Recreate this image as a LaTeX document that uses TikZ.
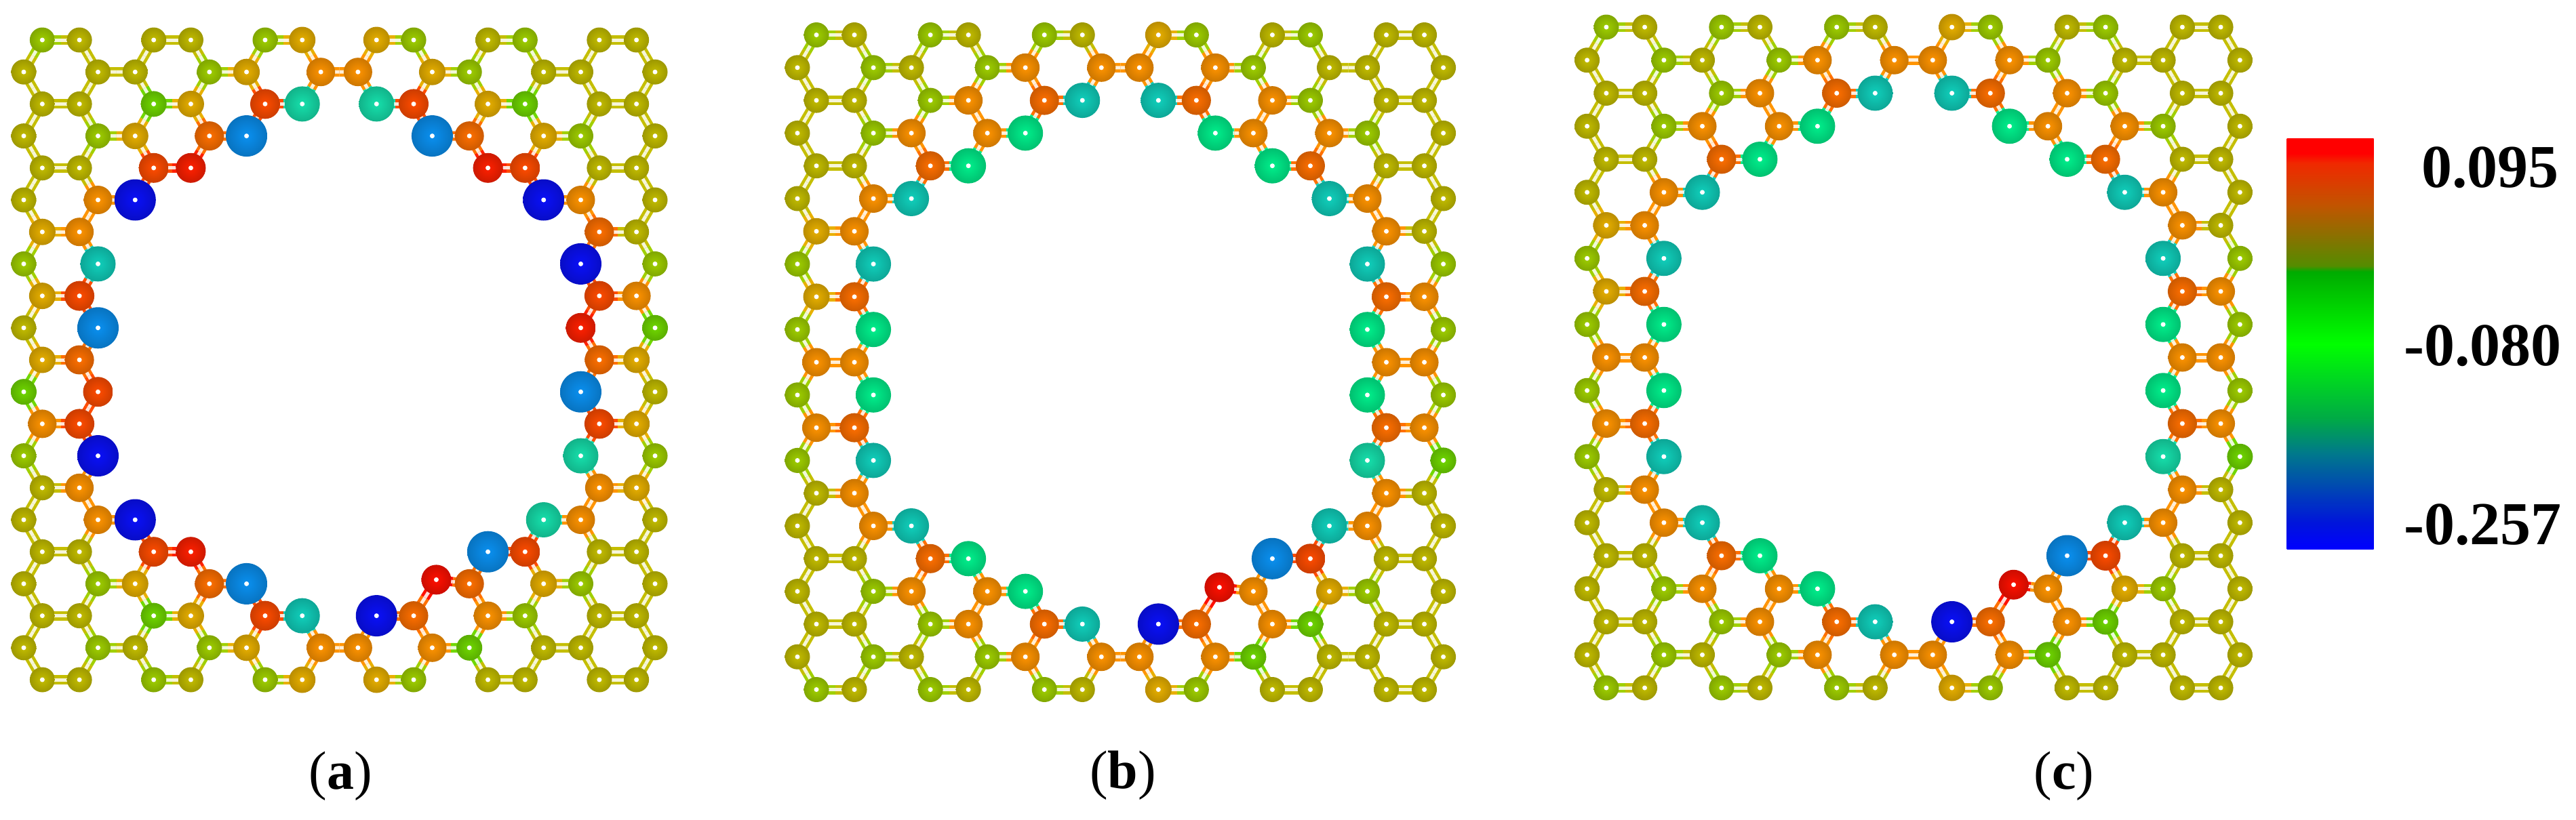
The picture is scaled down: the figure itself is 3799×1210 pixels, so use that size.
\documentclass[tikz,border=0pt]{standalone}
\usepackage{fontspec}
\setmainfont{Liberation Serif}
\usetikzlibrary{backgrounds,calc}

\tikzset{
  atom/.style={circle,inner sep=0pt,shading=radial,
    path picture={\fill[white] (path picture bounding box.center) circle (3.5pt);}},
  bondline/.style={line width=4.5pt,draw=#1,double=#1!15!white,double distance=5pt},
  caplabel/.style={font=\fontsize{80}{80}\selectfont,inner sep=0pt},
  valuelabel/.style={font=\fontsize{90}{90}\selectfont\bfseries,inner sep=0pt,anchor=east}
}
\newcommand{\atomkind}[3]{%
  \definecolor{c#1}{HTML}{#2}%
  \tikzset{atom#1/.style={atom,minimum size=#3pt,inner color=c#1,outer color=c#1!80!black}}}
\atomkind{y}{C4BE00}{37}
\atomkind{g}{A0D000}{37}
\atomkind{l}{70D800}{38}
\atomkind{a}{E8B000}{39}
\atomkind{o}{FF9400}{42}
\atomkind{d}{FF7000}{43}
\atomkind{r}{FF4C00}{44}
\atomkind{R}{FF2000}{44}
\atomkind{Q}{FF1000}{44}
\atomkind{t}{16E0AC}{52}
\atomkind{c}{10D0BC}{52}
\atomkind{s}{00F08C}{52}
\atomkind{b}{0A90F0}{61}
\atomkind{B}{0A10F8}{61}
\tikzset{atomQ/.append style={xshift=6pt,yshift=6pt}}

\pgfdeclareverticalshading{chargegrad}{100bp}{
  rgb(0bp)=(0,0,1); rgb(25bp)=(0,0,1); rgb(28.2bp)=(0,.08,.86);
  rgb(36.6bp)=(0,.47,.55); rgb(41bp)=(0,.67,.27); rgb(50bp)=(0,1,0);
  rgb(58.8bp)=(0,.67,0); rgb(59.5bp)=(.33,.55,0); rgb(66.9bp)=(.76,.33,0);
  rgb(72bp)=(.94,.16,0); rgb(73.2bp)=(1,0,0); rgb(100bp)=(1,0,0)}

\newcommand{\setpanel}[5]{\def\pname{#1}\def\xorg{#2}\def\yorg{#3}\def\xper{#4}\def\ystep{#5}}
\newcommand{\atomrow}[2]{%
  \foreach \col/\kind in {#2} {
    \pgfmathsetmacro\px{\xorg+\xper*(floor(\col/4)+{0,1/6,1/2,2/3}[int(mod(\col,4))])}
    \pgfmathsetmacro\py{\yorg+\ystep*#1}
    \node[atom\kind] (\pname-#1-\col) at (\px,\py) {};
    \expandafter\xdef\csname kind\pname-#1-\col\endcsname{\kind}
  }}
\newcommand{\bond}[4]{%
  \ifcsname kind\pname-#1-#2\endcsname\ifcsname kind\pname-#3-#4\endcsname
    \edef\ka{\csname kind\pname-#1-#2\endcsname}
    \edef\kb{\csname kind\pname-#3-#4\endcsname}
    \draw[bondline=c\ka] (\pname-#1-#2.center) -- ($(\pname-#1-#2)!.5!(\pname-#3-#4)$);
    \draw[bondline=c\kb] (\pname-#3-#4.center) -- ($(\pname-#1-#2)!.5!(\pname-#3-#4)$);
  \fi\fi}
\newcommand{\allbonds}{%
  \begin{scope}[on background layer]
  \foreach \rw in {0,2,...,20} {
    \pgfmathtruncatemacro\up{\rw-1}
    \pgfmathtruncatemacro\dn{\rw+1}
    \foreach \cl in {1,5,...,21} {
      \pgfmathtruncatemacro\ca{\cl-1}
      \pgfmathtruncatemacro\cb{\cl+1}
      \pgfmathtruncatemacro\cc{\cl+2}
      \bond{\rw}{\cl}{\rw}{\cb}
      \bond{\rw}{\cl}{\up}{\ca}
      \bond{\rw}{\cl}{\dn}{\ca}
      \bond{\rw}{\cb}{\up}{\cc}
      \bond{\rw}{\cb}{\dn}{\cc}
    }
  }
  \foreach \rw in {1,3,...,19}
    \foreach \cl in {3,7,...,19} {
      \pgfmathtruncatemacro\cb{\cl+1}
      \bond{\rw}{\cl}{\rw}{\cb}
    }
  \end{scope}}

% first panel
\newcommand{\rowsfirst}{%
  \atomrow{0}{1/g,2/y,5/y,6/y,9/g,10/a,13/a,14/g,17/y,18/g,21/y,22/y}
  \atomrow{1}{0/y,3/y,4/y,7/g,8/a,11/o,12/o,15/a,16/g,19/y,20/y,23/y}
  \atomrow{2}{1/y,2/y,5/l,6/a,9/r,10/t,13/t,14/r,17/a,18/l,21/y,22/y}
  \atomrow{3}{0/y,3/g,4/a,7/d,8/b,15/b,16/d,19/a,20/g,23/y}
  \atomrow{4}{1/y,2/y,5/r,6/R,17/R,18/r,21/y,22/y}
  \atomrow{5}{0/y,3/o,4/B,19/B,20/o,23/y}
  \atomrow{6}{1/a,2/o,21/d,22/y}
  \atomrow{7}{0/g,3/c,20/B,23/g}
  \atomrow{8}{1/a,2/r,21/r,22/o}
  \atomrow{9}{0/y,3/b,20/R,23/l}
  \atomrow{10}{1/a,2/d,21/d,22/a}
  \atomrow{11}{0/l,3/r,20/b,23/y}
  \atomrow{12}{1/o,2/r,21/r,22/a}
  \atomrow{13}{0/g,3/B,20/t,23/g}
  \atomrow{14}{1/y,2/o,21/o,22/a}
  \atomrow{15}{0/y,3/o,4/B,19/t,20/o,23/y}
  \atomrow{16}{1/y,2/y,5/r,6/R,17/b,18/r,21/y,22/y}
  \atomrow{17}{0/y,3/g,4/a,7/d,8/b,15/Q,16/d,19/a,20/g,23/y}
  \atomrow{18}{1/y,2/y,5/l,6/a,9/r,10/c,13/B,14/d,17/o,18/g,21/y,22/y}
  \atomrow{19}{0/y,3/g,4/y,7/g,8/a,11/o,12/o,15/o,16/l,19/y,20/y,23/y}
  \atomrow{20}{1/y,2/y,5/g,6/y,9/g,10/a,13/a,14/g,17/y,18/y,21/y,22/y}}

% the other two panels share their charges
\newcommand{\rowsother}{%
  \atomrow{0}{1/g,2/y,5/g,6/y,9/g,10/y,13/a,14/g,17/y,18/g,21/y,22/y}
  \atomrow{1}{0/y,3/g,4/y,7/g,8/o,11/o,12/o,15/o,16/g,19/y,20/y,23/y}
  \atomrow{2}{1/y,2/y,5/g,6/o,9/d,10/c,13/c,14/d,17/o,18/g,21/y,22/y}
  \atomrow{3}{0/y,3/g,4/o,7/o,8/s,15/s,16/o,19/o,20/g,23/y}
  \atomrow{4}{1/y,2/y,5/d,6/s,17/s,18/d,21/y,22/y}
  \atomrow{5}{0/y,3/o,4/c,19/c,20/o,23/y}
  \atomrow{6}{1/a,2/o,21/o,22/y}
  \atomrow{7}{0/g,3/c,20/c,23/g}
  \atomrow{8}{1/a,2/d,21/d,22/o}
  \atomrow{9}{0/g,3/s,20/s,23/g}
  \atomrow{10}{1/o,2/o,21/o,22/o}
  \atomrow{11}{0/g,3/s,20/s,23/g}
  \atomrow{12}{1/o,2/d,21/d,22/o}
  \atomrow{13}{0/g,3/c,20/t,23/l}
  \atomrow{14}{1/y,2/o,21/o,22/y}
  \atomrow{15}{0/y,3/o,4/c,19/c,20/o,23/y}
  \atomrow{16}{1/y,2/y,5/d,6/s,17/b,18/r,21/y,22/y}
  \atomrow{17}{0/y,3/g,4/o,7/o,8/s,15/Q,16/o,19/a,20/g,23/y}
  \atomrow{18}{1/y,2/y,5/g,6/o,9/d,10/c,13/B,14/d,17/o,18/l,21/y,22/y}
  \atomrow{19}{0/y,3/g,4/y,7/g,8/o,11/o,12/o,15/o,16/l,19/y,20/y,23/y}
  \atomrow{20}{1/g,2/y,5/g,6/y,9/g,10/y,13/a,14/g,17/y,18/y,21/y,22/y}}

\begin{document}
\begin{tikzpicture}[x=1pt,y=-1pt]
  \useasboundingbox (0,0) rectangle (3799,1210);

  \setpanel{a}{35}{59}{164.3}{47.2}
  \rowsfirst
  \allbonds

  \setpanel{b}{1176}{51.5}{168.1}{48.3}
  \rowsother
  \allbonds

  \setpanel{c}{2340.6}{40}{169.9}{48.75}
  \rowsother
  \allbonds

  \node[caplabel] (capa) at (502,1145) {(\textbf{a})};
  \node[caplabel] (capb) at (1656,1144) {(\textbf{b})};
  \node[caplabel] (capc) at (3044,1145) {(\textbf{c})};

  \node[shading=chargegrad,inner sep=0pt,minimum width=128pt,minimum height=606pt] (scalebar) at (3436.5,507.5) {};
  \node[valuelabel] (vmax) at (3774,247) {0.095};
  \node[valuelabel] (vmid) at (3778,510) {-0.080};
  \node[valuelabel] (vmin) at (3778,774) {-0.257};
\end{tikzpicture}
\end{document}
